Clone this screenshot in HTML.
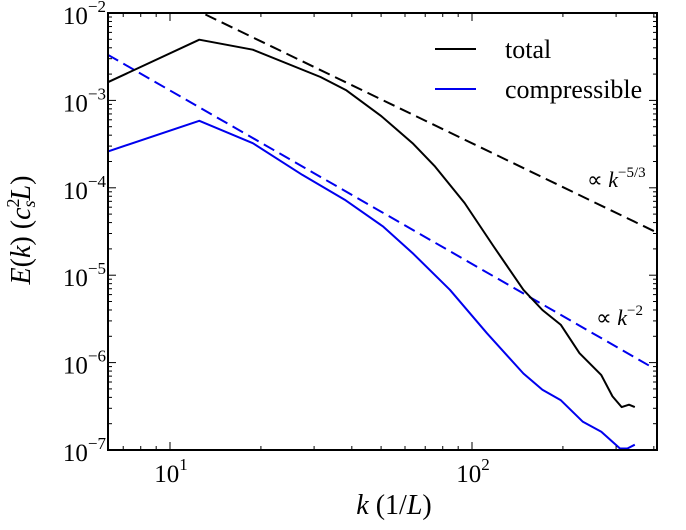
<!DOCTYPE html>
<html><head><meta charset="utf-8"><style>
body{margin:0;background:#fff}
svg{font-family:"Liberation Serif",serif}
</style></head><body>
<svg id="c" width="686" height="525"></svg>
<script>
const totalK=[6.22,12.5,18.8,31.5,38.4,50.1,63.6,75.5,94.5,118,148,171,197,227,268,292,313,331,346];
const totalE=[1.61e-3,4.95e-3,3.8e-3,1.85e-3,1.3e-3,6.6e-4,3.24e-4,1.75e-4,6.7e-5,2.13e-5,6.8e-6,4.0e-6,2.7e-6,1.28e-6,7.2e-7,4.1e-7,3.1e-7,3.3e-7,3.1e-7];
const compK=[6.22,12.5,18.8,27.4,37.9,50.8,63.6,84.5,112,148,171,197,233,268,309,327,346];
const compE=[2.6e-4,5.85e-4,3.24e-4,1.41e-4,7.3e-5,3.6e-5,1.79e-5,6.8e-6,2.17e-6,7.5e-7,4.9e-7,3.7e-7,2.1e-7,1.62e-7,1.04e-7,1.04e-7,1.15e-7];
const fit53K=[13.1,403];const fit53E=[9.6e-3,3.16e-5];
const fit2K=[6.22,400];const fit2E=[3.33e-3,8.6e-7];
const yTicks=[-2,-3,-4,-5,-6,-7];
const xTicks=[1,2];
const L=108,R=657,T=13,B=450;
const x=k=>170+(Math.log10(k)-1)*302;
const y=v=>T+(-2-Math.log10(v))*87.4;
const s=document.getElementById('c');const NS='http://www.w3.org/2000/svg';
function el(t,a,p){const e=document.createElementNS(NS,t);for(const k in a)e.setAttribute(k,a[k]);(p||s).appendChild(e);return e;}
const cp=el('clipPath',{id:'cl'});el('rect',{x:L,y:T,width:R-L,height:B-T},cp);
function line(K,E,col,dash,name){const p=el('path',{d:K.map((k,i)=>(i?'L':'M')+x(k).toFixed(1)+','+y(E[i]).toFixed(1)).join(''),fill:'none',stroke:col,'stroke-width':2,'stroke-linejoin':'round','clip-path':'url(#cl)','stroke-dasharray':dash||'none'});

}
line(fit53K,fit53E,'#000','12,6','fit-k-5-3');
line(fit2K,fit2E,'#0000ee','12,6','fit-k-2');
line(totalK,totalE,'#000',null,'total-line');
line(compK,compE,'#0000ee',null,'compressible-line');
const fr=el('rect',{x:L,y:T,width:R-L,height:B-T,fill:'none',stroke:'#000','stroke-width':2});


yTicks.forEach(p=>{const yy=y(Math.pow(10,p));
el('line',{x1:L,x2:L+8,y1:yy,y2:yy,stroke:'#000'});el('line',{x1:R,x2:R-8,y1:yy,y2:yy,stroke:'#000'});
for(let m=2;m<10&&p>-7;m++){const ym=y(m*Math.pow(10,p-1));el('line',{x1:L,x2:L+4,y1:ym,y2:ym,stroke:'#000'});el('line',{x1:R,x2:R-4,y1:ym,y2:ym,stroke:'#000'});}
const t=el('text',{x:L-2,y:yy+11,'text-anchor':'end','font-size':25});t.innerHTML='10<tspan dy="-12" font-size="17">−'+(-p)+'</tspan>';

});
xTicks.forEach(p=>{const xx=x(Math.pow(10,p));
el('line',{x1:xx,x2:xx,y1:B,y2:B-8,stroke:'#000'});el('line',{x1:xx,x2:xx,y1:T,y2:T+8,stroke:'#000'});
const t=el('text',{x:xx+1,y:B+32,'text-anchor':'middle','font-size':25});t.innerHTML='10<tspan dy="-12" font-size="17">'+p+'</tspan>';

});
[7,8,9,20,30,40,50,60,70,80,90,200,300,400].forEach(k=>{const xx=x(k);if(xx<L||xx>R)return;el('line',{x1:xx,x2:xx,y1:B,y2:B-4,stroke:'#000'});el('line',{x1:xx,x2:xx,y1:T,y2:T+4,stroke:'#000'});});
function txt(h,a,name){const t=el('text',a);t.innerHTML=h;return t;}
txt('<tspan font-style="italic">k</tspan> (1/<tspan font-style="italic">L</tspan>)',{x:394,y:514,'text-anchor':'middle','font-size':28},'x-axis-title');
txt('<tspan font-style="italic">E</tspan>(<tspan font-style="italic">k</tspan>) (<tspan font-style="italic">c</tspan><tspan dy="-11" font-size="18">2</tspan><tspan dy="16" font-size="18" font-style="italic" dx="-9">s</tspan><tspan dy="-5" font-style="italic">L</tspan>)',{x:0,y:0,transform:'translate(30,230) rotate(-90)','text-anchor':'middle','font-size':28},'y-axis-title');
txt('∝ <tspan font-style="italic">k</tspan><tspan dy="-10" font-size="15">−5/3</tspan>',{x:587,y:187,'font-size':22},'annotation-k-5-3');
txt('∝ <tspan font-style="italic">k</tspan><tspan dy="-10" font-size="15">−2</tspan>',{x:596,y:325,'font-size':22},'annotation-k-2');
el('line',{x1:435,x2:476,y1:49,y2:49,stroke:'#000','stroke-width':2});
txt('total',{x:505,y:58,'font-size':26},'legend-total');
el('line',{x1:435,x2:476,y1:89,y2:89,stroke:'#0000ee','stroke-width':2});
txt('compressible',{x:505,y:98,'font-size':26},'legend-compressible');
</script>
</body></html>
